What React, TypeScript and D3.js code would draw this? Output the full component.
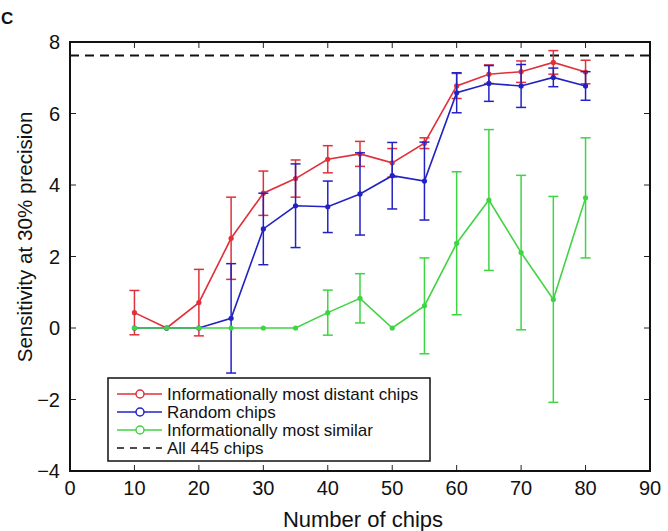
import React, { useRef, useEffect } from 'react'
import * as d3 from 'd3'

// chip counts on the x axis
const chips = [10, 15, 20, 25, 30, 35, 40, 45, 50, 55, 60, 65, 70, 75, 80]

// mean sensitivity per strategy
const distantMean = [0.43, 0, 0.71, 2.51, 3.77, 4.18, 4.72, 4.87, 4.62, 5.17, 6.77, 7.1, 7.17, 7.43, 7.16]
const distantErr = [0.62, 0, 0.93, 1.15, 0.62, 0.52, 0.38, 0.35, 0.4, 0.15, 0.35, 0.26, 0.3, 0.33, 0.33]

const randomMean = [0, 0, 0, 0.27, 2.77, 3.42, 3.39, 3.75, 4.26, 4.11, 6.58, 6.84, 6.77, 7.01, 6.77]
const randomErr = [0, 0, 0, 1.53, 1.0, 1.17, 0.72, 1.15, 0.93, 1.09, 0.56, 0.5, 0.6, 0.26, 0.4]

const similarMean = [0, 0, 0, 0, 0, 0, 0.43, 0.83, 0, 0.62, 2.37, 3.58, 2.11, 0.8, 3.64]
const similarErr = [0, 0, 0, 0, 0, 0, 0.63, 0.69, 0, 1.34, 2.0, 1.97, 2.16, 2.88, 1.68]

const allChips = 7.62

const xTicks = [0, 10, 20, 30, 40, 50, 60, 70, 80, 90]
const yTicks = [-4, -2, 0, 2, 4, 6, 8]

const seriesList = [
  { name: 'Informationally most distant chips', color: '#e0303a', mean: distantMean, err: distantErr },
  { name: 'Random chips', color: '#2222c4', mean: randomMean, err: randomErr },
  { name: 'Informationally most similar', color: '#3fd444', mean: similarMean, err: similarErr },
]

export default function App() {
  const svgRef = useRef<SVGSVGElement>(null)
  const width = 668
  const height = 531

  useEffect(() => {
    const svg = d3.select(svgRef.current)
    svg.selectAll('*').remove()

    const font = '"Liberation Sans", Arial, sans-serif'
    const left = 70, right = 650, top = 42, bottom = 471

    const x = d3.scaleLinear().domain([0, 90]).range([left, right])
    const y = d3.scaleLinear().domain([-4, 8]).range([bottom, top])

    svg.append('rect').attr('width', width).attr('height', height).attr('fill', '#fff')

    // panel letter
    svg.append('text')
      .attr('x', 1).attr('y', 24)
      .attr('font-family', font).attr('font-weight', 'bold').attr('font-size', 17)
      .attr('fill', '#111')
      .text('C')

    // inward ticks on all four sides
    const tk = 6
    const axes = svg.append('g').attr('stroke', '#222').attr('stroke-width', 1)
    xTicks.forEach(t => {
      axes.append('line').attr('x1', x(t)).attr('x2', x(t)).attr('y1', bottom).attr('y2', bottom - tk)
      axes.append('line').attr('x1', x(t)).attr('x2', x(t)).attr('y1', top).attr('y2', top + tk)
    })
    yTicks.forEach(t => {
      axes.append('line').attr('x1', left).attr('x2', left + tk).attr('y1', y(t)).attr('y2', y(t))
      axes.append('line').attr('x1', right).attr('x2', right - tk).attr('y1', y(t)).attr('y2', y(t))
    })

    // tick labels
    svg.append('g').selectAll('text').data(xTicks).join('text')
      .attr('x', d => x(d)).attr('y', bottom + 24)
      .attr('text-anchor', 'middle')
      .attr('font-family', font).attr('font-size', 20).attr('fill', '#111')
      .text(d => d)

    svg.append('g').selectAll('text').data(yTicks).join('text')
      .attr('x', left - 10).attr('y', d => y(d) + 7)
      .attr('text-anchor', 'end')
      .attr('font-family', font).attr('font-size', 20).attr('fill', '#111')
      .text(d => (d < 0 ? '\u2212' + Math.abs(d) : String(d)))

    // axis titles
    svg.append('text')
      .attr('x', 363).attr('y', 527)
      .attr('text-anchor', 'middle')
      .attr('font-family', font).attr('font-size', 22).attr('fill', '#111')
      .text('Number of chips')

    svg.append('text')
      .attr('transform', 'translate(32,237) rotate(-90)')
      .attr('text-anchor', 'middle')
      .attr('font-family', font).attr('font-size', 20.6).attr('fill', '#111')
      .text('Sensitivity at 30% precision')

    // reference line for all chips
    svg.append('line')
      .attr('x1', left).attr('x2', right)
      .attr('y1', y(allChips)).attr('y2', y(allChips))
      .attr('stroke', '#111').attr('stroke-width', 2)
      .attr('stroke-dasharray', '9,6')

    const line = d3.line<number>()
      .x((d, i) => x(chips[i]))
      .y(d => y(d))

    seriesList.forEach(s => {
      const g = svg.append('g')
      // error bars
      const cap = 5
      s.err.forEach((e, i) => {
        if (e <= 0) return
        const cx = x(chips[i])
        const y0 = y(s.mean[i] - e), y1 = y(s.mean[i] + e)
        g.append('line').attr('x1', cx).attr('x2', cx).attr('y1', y0).attr('y2', y1)
          .attr('stroke', s.color).attr('stroke-width', 1.5)
        ;[y0, y1].forEach(yy => {
          g.append('line').attr('x1', cx - cap).attr('x2', cx + cap).attr('y1', yy).attr('y2', yy)
            .attr('stroke', s.color).attr('stroke-width', 1.5)
        })
      })
      g.append('path')
        .attr('d', line(s.mean))
        .attr('fill', 'none')
        .attr('stroke', s.color)
        .attr('stroke-width', 1.6)
      g.selectAll('circle').data(s.mean).join('circle')
        .attr('cx', (d, i) => x(chips[i]))
        .attr('cy', d => y(d))
        .attr('r', 2.6)
        .attr('fill', s.color)
    })

    // frame
    svg.append('rect')
      .attr('x', left).attr('y', top)
      .attr('width', right - left).attr('height', bottom - top)
      .attr('fill', 'none').attr('stroke', '#111').attr('stroke-width', 2)

    // legend
    const lg = svg.append('g')
    lg.append('rect')
      .attr('x', 108).attr('y', 378).attr('width', 322).attr('height', 83)
      .attr('fill', '#fff').attr('stroke', '#111').attr('stroke-width', 1.5)
    const rows = [
      ...seriesList.map(s => ({ name: s.name, color: s.color, dashed: false })),
      { name: 'All 445 chips', color: '#111', dashed: true },
    ]
    rows.forEach((r, i) => {
      const ry = 394 + i * 18
      lg.append('line')
        .attr('x1', 117).attr('x2', 162).attr('y1', ry).attr('y2', ry)
        .attr('stroke', r.color).attr('stroke-width', r.dashed ? 1.5 : 1.6)
        .attr('stroke-dasharray', r.dashed ? '7,6' : null)
      if (!r.dashed) {
        lg.append('circle').attr('cx', 140).attr('cy', ry).attr('r', 4)
          .attr('fill', '#fff').attr('stroke', r.color).attr('stroke-width', 1.5)
      }
      lg.append('text')
        .attr('x', 167).attr('y', ry + 6)
        .attr('font-family', font).attr('font-size', 17).attr('fill', '#111')
        .text(r.name)
    })
  }, [])

  return (
    <svg
      ref={svgRef}
      width={width}
      height={height}
      style={{ position: 'absolute', left: 0, top: 0 }}
    />
  )
}
